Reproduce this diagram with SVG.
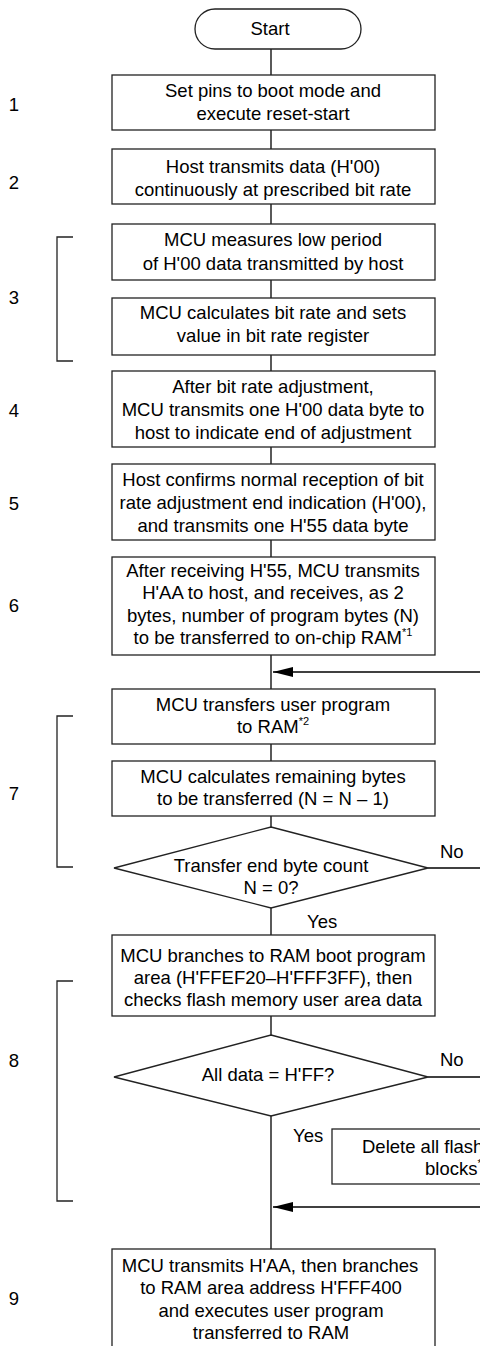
<svg xmlns="http://www.w3.org/2000/svg" width="480" height="1346" viewBox="0 0 480 1346">
<style>
text{font-family:"Liberation Sans",Arial,sans-serif;font-size:18.5px;fill:#000}
.c{text-anchor:middle}
.lbl{text-anchor:middle}
.box{fill:#fff;stroke:#222;stroke-width:1.3}
.ln{fill:none;stroke:#000;stroke-width:1.3}
.br{fill:none;stroke:#222;stroke-width:1.3}
.sup{font-size:11px}
</style>
<defs>
<marker id="ah" markerWidth="20" markerHeight="10" refX="20" refY="5" orient="auto" markerUnits="userSpaceOnUse">
<path d="M0,0 L20,5 L0,10 Z" fill="#000"/>
</marker>
</defs>
<rect width="480" height="1346" fill="#fff"/>

<g id="connectors">
<line class="ln" x1="271" y1="49" x2="271" y2="75"/>
<line class="ln" x1="271" y1="130" x2="271" y2="149"/>
<line class="ln" x1="271" y1="204" x2="271" y2="224"/>
<line class="ln" x1="271" y1="280" x2="271" y2="298"/>
<line class="ln" x1="271" y1="355" x2="271" y2="371"/>
<line class="ln" x1="271" y1="447" x2="271" y2="464"/>
<line class="ln" x1="271" y1="540" x2="271" y2="557"/>
<line class="ln" x1="271" y1="655" x2="271" y2="689"/>
<line class="ln" x1="271" y1="744" x2="271" y2="761"/>
<line class="ln" x1="271" y1="816" x2="271" y2="827"/>
<line class="ln" x1="271" y1="907" x2="271" y2="935"/>
<line class="ln" x1="271" y1="1016" x2="271" y2="1035"/>
<line class="ln" x1="271" y1="1116" x2="271" y2="1249"/>
<line class="ln" x1="428" y1="868" x2="480" y2="868"/>
<line class="ln" x1="428" y1="1077" x2="480" y2="1077"/>
<line class="ln" x1="480" y1="672" x2="273" y2="672" marker-end="url(#ah)"/>
<line class="ln" x1="480" y1="1207" x2="273" y2="1207" marker-end="url(#ah)"/>
<text x="440" y="858">No</text>
<text x="307" y="928">Yes</text>
<text x="440" y="1066">No</text>
<text x="293" y="1142">Yes</text>
</g>

<g id="brackets">
<path class="br" d="M73,237 H57 V361 H73"/>
<path class="br" d="M73,716 H57 V867 H73"/>
<path class="br" d="M73,981 H57 V1201 H73"/>
<text class="lbl" x="14" y="111">1</text>
<text class="lbl" x="14" y="189">2</text>
<text class="lbl" x="14" y="304">3</text>
<text class="lbl" x="14" y="417">4</text>
<text class="lbl" x="14" y="510">5</text>
<text class="lbl" x="14" y="612">6</text>
<text class="lbl" x="14" y="800">7</text>
<text class="lbl" x="14" y="1067">8</text>
<text class="lbl" x="14" y="1305">9</text>
</g>

<g id="start">
<rect class="box" x="195" y="9" width="166" height="40" rx="20" ry="20"/>
<text class="c" x="270" y="35">Start</text>
</g>

<g id="step1">
<rect class="box" x="112" y="75" width="323" height="55"/>
<text class="c" x="273" y="97">Set pins to boot mode and</text>
<text class="c" x="273" y="120">execute reset-start</text>
</g>

<g id="step2">
<rect class="box" x="112" y="149" width="323" height="55"/>
<text class="c" x="273" y="173">Host transmits data (H'00)</text>
<text class="c" x="273" y="196">continuously at prescribed bit rate</text>
</g>

<g id="step3a">
<rect class="box" x="112" y="224" width="323" height="56"/>
<text class="c" x="273" y="246">MCU measures low period</text>
<text class="c" x="273" y="270">of H'00 data transmitted by host</text>
</g>

<g id="step3b">
<rect class="box" x="112" y="298" width="323" height="57"/>
<text class="c" x="273" y="319">MCU calculates bit rate and sets</text>
<text class="c" x="273" y="342">value in bit rate register</text>
</g>

<g id="step4">
<rect class="box" x="112" y="371" width="323" height="76"/>
<text class="c" x="273" y="393">After bit rate adjustment,</text>
<text class="c" x="273" y="416">MCU transmits one H'00 data byte to</text>
<text class="c" x="273" y="439">host to indicate end of adjustment</text>
</g>

<g id="step5">
<rect class="box" x="112" y="464" width="323" height="76"/>
<text class="c" x="273" y="486">Host confirms normal reception of bit</text>
<text class="c" x="273" y="509">rate adjustment end indication (H'00),</text>
<text class="c" x="273" y="532">and transmits one H'55 data byte</text>
</g>

<g id="step6">
<rect class="box" x="112" y="557" width="323" height="98"/>
<text class="c" x="273" y="577">After receiving H'55, MCU transmits</text>
<text class="c" x="273" y="599">H'AA to host, and receives, as 2</text>
<text class="c" x="273" y="622">bytes, number of program bytes (N)</text>
<text class="c" x="273" y="644">to be transferred to on-chip RAM<tspan class="sup" dy="-8">*1</tspan></text>
</g>

<g id="step7a">
<rect class="box" x="112" y="689" width="323" height="55"/>
<text class="c" x="273" y="711">MCU transfers user program</text>
<text class="c" x="273" y="733">to RAM<tspan class="sup" dy="-8">*2</tspan></text>
</g>

<g id="step7b">
<rect class="box" x="112" y="761" width="323" height="55"/>
<text class="c" x="273" y="783">MCU calculates remaining bytes</text>
<text class="c" x="273" y="805">to be transferred (N = N – 1)</text>
</g>

<g id="decision1">
<polygon class="box" points="271,827 428,868 271,908 114,868"/>
<text class="c" x="271" y="872">Transfer end byte count</text>
<text class="c" x="271" y="894">N = 0?</text>
</g>

<g id="step8a">
<rect class="box" x="112" y="935" width="323" height="81"/>
<text class="c" x="273" y="962">MCU branches to RAM boot program</text>
<text class="c" x="273" y="984">area (H'FFEF20–H'FFF3FF), then</text>
<text class="c" x="273" y="1006">checks flash memory user area data</text>
</g>

<g id="decision2">
<polygon class="box" points="271,1035 428,1077 271,1116 114,1077"/>
<text class="c" x="268" y="1081">All data = H'FF?</text>
</g>

<g id="delete">
<rect class="box" x="332" y="1129" width="170" height="55"/>
<text x="362" y="1153">Delete all flash</text>
<text x="425" y="1175">blocks<tspan class="sup" dy="-8">*3</tspan></text>
</g>

<g id="step9">
<rect class="box" x="112" y="1249" width="323" height="110"/>
<text class="c" x="270" y="1272">MCU transmits H'AA, then branches</text>
<text class="c" x="271" y="1294">to RAM area address H'FFF400</text>
<text class="c" x="271" y="1317">and executes user program</text>
<text class="c" x="271" y="1339">transferred to RAM</text>
</g>
</svg>
